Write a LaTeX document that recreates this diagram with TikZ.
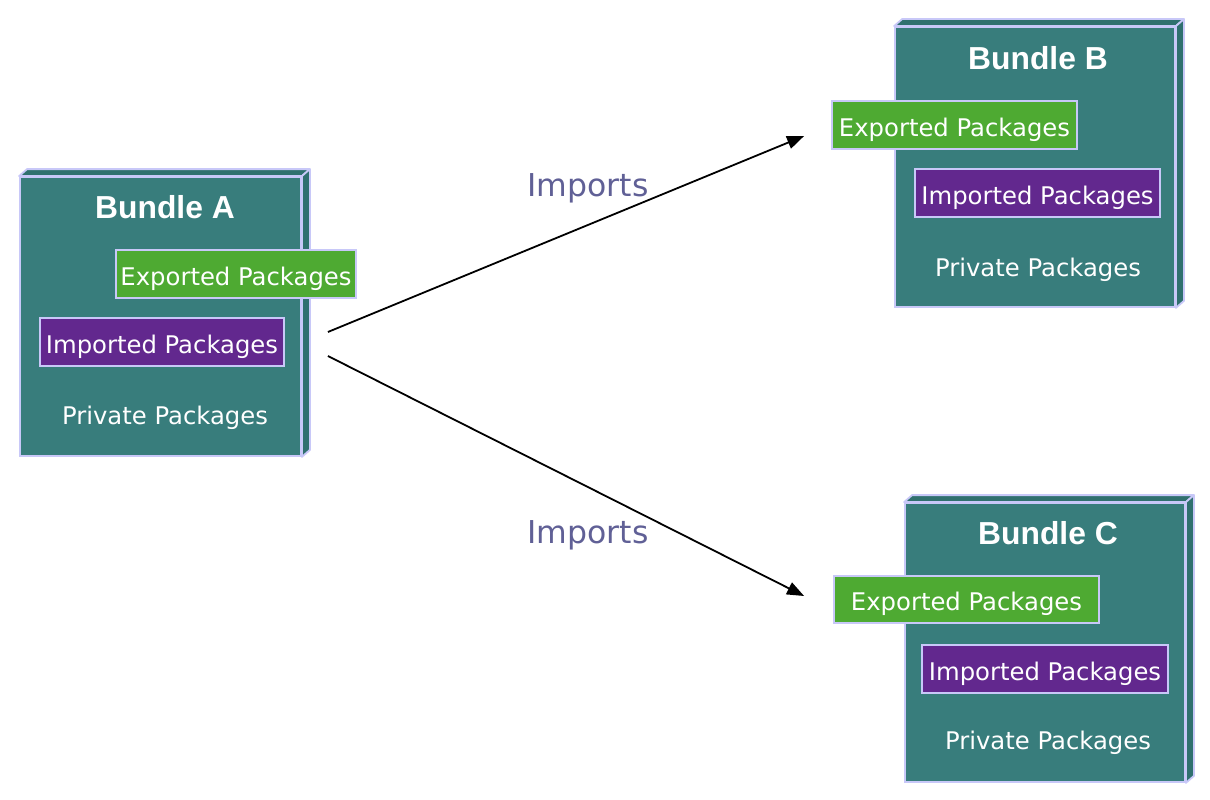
\documentclass[tikz,border=0pt]{standalone}
\usepackage{fontspec}
\newfontfamily\dejavu{DejaVu Sans}
\newfontfamily\libsans{Liberation Sans}
\usetikzlibrary{arrows.meta}
\definecolor{teal1}{RGB}{56,125,124}
\definecolor{teal2}{RGB}{48,112,111}
\definecolor{grn}{RGB}{78,170,50}
\definecolor{purp}{RGB}{98,40,142}
\definecolor{lav}{RGB}{200,200,248}
\definecolor{imp}{RGB}{96,96,150}
\tikzset{
  bundle/.style={draw=lav, line width=1.8pt, fill=teal1, inner sep=0pt},
  side/.style={draw=lav, line width=1.8pt, fill=teal2, line join=round},
  pkg/.style={draw=lav, line width=1.8pt, text=white, inner sep=0pt, minimum height=48pt,
    text height=22pt, text depth=0pt,
    font=\dejavu\fontsize{24.3}{28}\selectfont},
  expbox/.style={pkg, fill=grn},
  impbox/.style={pkg, fill=purp},
  title/.style={text=white, inner sep=0pt, font=\libsans\bfseries\fontsize{31.8}{36}\selectfont},
  priv/.style={text=white, inner sep=0pt, font=\dejavu\fontsize{24.3}{28}\selectfont},
  lbl/.style={text=imp, inner sep=0pt, font=\dejavu\fontsize{31.5}{36}\selectfont},
  conn/.style={line width=1.8pt, -{Triangle[length=17pt,width=13pt]}}
}
\begin{document}
\begin{tikzpicture}[x=1pt,y=-1pt]
\useasboundingbox (0,0) rectangle (1210,800);
% Bundle A
\node[bundle, minimum width=281pt, minimum height=279pt] (A) at (160.5,316.5) {};
\draw[side] (A.north west) -- ++(8,-7) -- ([shift={(8,-7)}]A.north east) -- (A.north east) -- cycle;
\draw[side] (A.north east) -- ([shift={(8,-7)}]A.north east) -- ([shift={(8,-7)}]A.south east) -- (A.south east) -- cycle;
\node[title, anchor=base] (At) at (165,218) {Bundle A};
\node[expbox, minimum width=240pt] (Ae) at (236,274) {Exported Packages};
\node[impbox, minimum width=244pt] (Ai) at (162,342) {Imported Packages};
\node[priv, anchor=base] (Ap) at (165,424) {Private Packages};
% Bundle B
\node[bundle, minimum width=280pt, minimum height=280pt] (B) at (1035,167) {};
\draw[side] (B.north west) -- ++(8,-7) -- ([shift={(8,-7)}]B.north east) -- (B.north east) -- cycle;
\draw[side] (B.north east) -- ([shift={(8,-7)}]B.north east) -- ([shift={(8,-7)}]B.south east) -- (B.south east) -- cycle;
\node[title, anchor=base] (Bt) at (1038,70) {Bundle B};
\node[expbox, minimum width=245pt] (Be) at (954.5,125) {Exported Packages};
\node[impbox, minimum width=245pt] (Bi) at (1037.5,193) {Imported Packages};
\node[priv, anchor=base] (Bp) at (1038,276) {Private Packages};
% Bundle C
\node[bundle, minimum width=280pt, minimum height=279pt] (C) at (1045,642.5) {};
\draw[side] (C.north west) -- ++(8,-7) -- ([shift={(8,-7)}]C.north east) -- (C.north east) -- cycle;
\draw[side] (C.north east) -- ([shift={(8,-7)}]C.north east) -- ([shift={(8,-7)}]C.south east) -- (C.south east) -- cycle;
\node[title, anchor=base] (Ct) at (1048,544) {Bundle C};
\node[expbox, minimum width=265pt, minimum height=47pt] (Ce) at (966.5,599.5) {Exported Packages};
\node[impbox, minimum width=246pt] (Ci) at (1045,669) {Imported Packages};
\node[priv, anchor=base] (Cp) at (1048,749) {Private Packages};
% connectors
\coordinate (a1) at ([shift={(26,15.5)}]A.east);
\coordinate (a2) at ([shift={(26,39.5)}]A.east);
\coordinate (b1) at ([shift={(-27,11)}]Be.west);
\coordinate (c1) at ([shift={(-29,-3.5)}]Ce.west);
\draw[conn] (a1) -- (b1);
\draw[conn] (a2) -- (c1);
\node[lbl, anchor=base] (L1) at (588,196) {Imports};
\node[lbl, anchor=base] (L2) at (588,543) {Imports};
\end{tikzpicture}
\end{document}
